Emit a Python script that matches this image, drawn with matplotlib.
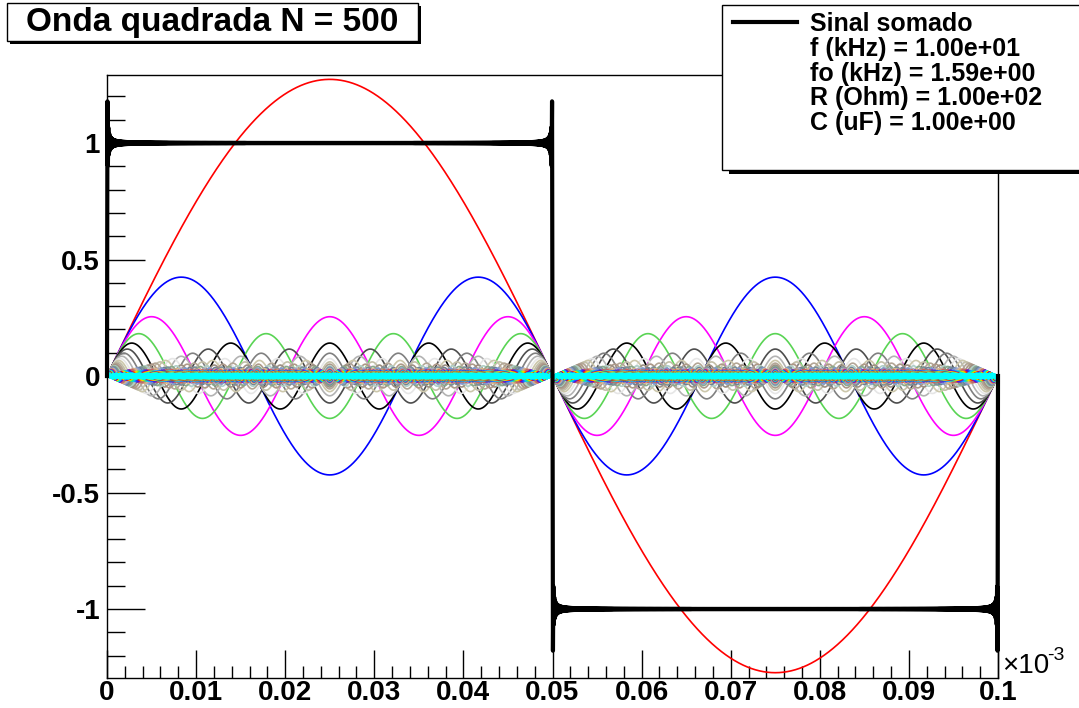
import matplotlib
matplotlib.use("Agg")
import matplotlib.pyplot as plt
import numpy as np
from matplotlib.patches import Rectangle
from matplotlib.lines import Line2D

############################### Data ###############################
title = "Onda quadrada N = 500"
n_terms = 500                 # number of odd harmonics summed
freq_khz = 10.0               # square wave frequency
period_s = 1e-4               # one period = 0.1 x 10^-3 s
legend_lines = ["Sinal somado", "f (kHz) = 1.00e+01", "fo (kHz) = 1.59e+00",
                "R (Ohm) = 1.00e+02", "C (uF) = 1.00e+00"]
x_ticks = [0, 0.01e-3, 0.02e-3, 0.03e-3, 0.04e-3, 0.05e-3, 0.06e-3, 0.07e-3, 0.08e-3, 0.09e-3, 0.1e-3]
x_tick_labels = ["0", "0.01", "0.02", "0.03", "0.04", "0.05", "0.06", "0.07", "0.08", "0.09", "0.1"]
y_ticks = [-1, -0.5, 0, 0.5, 1]
y_tick_labels = ["-1", "-0.5", "0", "0.5", "1"]
y_range = (-1.296, 1.292)

# colours of the harmonics, in drawing order (ROOT colour indices 2,4,6,8,...)
first_colors = ["#ff0000", "#0000ff", "#ff00ff", "#59d454", "#000000",
                "#4d4d4d", "#808080", "#b3b3b3", "#e6e6e6"]
tan_colors = ["#ccc7ab", "#c2bfa8", "#b3a696", "#ad9989", "#9c8f82", "#b0cfc7",
              "#8aa88c", "#7a8f99", "#6e8296", "#7d99d1", "#aba6bf", "#ddba87",
              "#c79a7d", "#cf5e61", "#a67a7a", "#d45954"]
palette_colors = ["#6a00d1", "#3a20e8", "#2050ff", "#1c86ff", "#10b8ff", "#00e0f0",
                  "#00f0b0", "#30f060", "#80f030", "#c0f000", "#f0e000", "#ffb000",
                  "#ff7000", "#ff3000", "#e00010"]
high_color = "#00ffff"

W, H = 1079, 708

def fpx(x, y):
    return x / W, 1 - y / H

############################### Signals ###############################
t = np.linspace(0, period_s, 2001)
omega = 2 * np.pi * freq_khz * 1e3
orders = 2 * np.arange(1, n_terms + 1) - 1
amps = 4 / (np.pi * orders)   # Fourier coefficients of a unit square wave
harmonics = amps[:, None] * np.sin(orders[:, None] * omega * t[None, :])
total = harmonics.sum(axis=0)

def harmonic_color(k):
    if k < len(first_colors):
        return first_colors[k]
    k -= len(first_colors)
    if k < len(tan_colors):
        return tan_colors[k]
    k -= len(tan_colors)
    if k < 2 * len(palette_colors):
        return palette_colors[k % len(palette_colors)]
    return high_color

############################### Plot ###############################
fig = plt.figure(figsize=(W / 100, H / 100), dpi=100)
ax = fig.add_axes([107 / W, 1 - 678 / H, (998 - 107) / W, (678 - 75) / H])

for k in range(n_terms):
    ax.plot(t, harmonics[k], color=harmonic_color(k), lw=1.2, zorder=2)
ax.plot(t, total, color="black", lw=3.0, zorder=3, clip_on=False)

ax.set_xlim(0, period_s)
ax.set_ylim(*y_range)
ax.set_xticks(x_ticks)
ax.set_xticklabels(x_tick_labels)
ax.set_yticks(y_ticks)
ax.set_yticklabels(y_tick_labels)
ax.set_xticks(np.arange(0, period_s + 1e-9, 0.002e-3), minor=True)
ax.set_yticks(np.arange(-1.2, 1.25, 0.1), minor=True)

lab_font = dict(family="Liberation Sans", weight="bold", size=20)
for lab in ax.get_xticklabels() + ax.get_yticklabels():
    lab.set_fontproperties(matplotlib.font_manager.FontProperties(**lab_font))
ax.tick_params(axis="x", which="major", direction="in", length=20, width=1, pad=1.5)
ax.tick_params(axis="x", which="minor", direction="in", length=9, width=1)
ax.tick_params(axis="y", which="major", direction="in", length=27, width=1, pad=5)
ax.tick_params(axis="y", which="minor", direction="in", length=13, width=1)
for sp in ax.spines.values():
    sp.set_linewidth(1)
    sp.set_zorder(4)

# x10^-3 multiplier
fig.text(*fpx(1002, 673), "×10", family="Liberation Sans", size=20, ha="left", va="baseline")
fig.text(*fpx(1047, 660), "-3", family="Liberation Sans", size=14, ha="left", va="baseline")

# title box with shadow
fig.add_artist(Rectangle(fpx(10, 44), 411 / W, 38 / H, transform=fig.transFigure,
                         facecolor="black", edgecolor="none", zorder=5))
fig.add_artist(Rectangle(fpx(7, 41), 411 / W, 38 / H, transform=fig.transFigure,
                         facecolor="white", edgecolor="black", lw=1, zorder=6))
fig.text(*fpx(212, 23), title, family="Liberation Sans", weight="bold", size=24,
         ha="center", va="center", zorder=7)

# legend box with shadow
fig.add_artist(Rectangle(fpx(729, 174), 400 / W, 166 / H, transform=fig.transFigure,
                         facecolor="black", edgecolor="none", zorder=5))
fig.add_artist(Rectangle(fpx(722, 170), 400 / W, 165 / H, transform=fig.transFigure,
                         facecolor="white", edgecolor="black", lw=1, zorder=6))
x0, y0 = fpx(733, 22)
x1, _ = fpx(797, 22)
fig.add_artist(Line2D([x0, x1], [y0, y0], transform=fig.transFigure, color="black", lw=3, zorder=7))
for i, txt in enumerate(legend_lines):
    fig.text(*fpx(810, 31 + 24.8 * i), txt, family="Liberation Sans", weight="bold", size=18,
             ha="left", va="baseline", zorder=7)

fig.savefig("out.png", dpi=100)
